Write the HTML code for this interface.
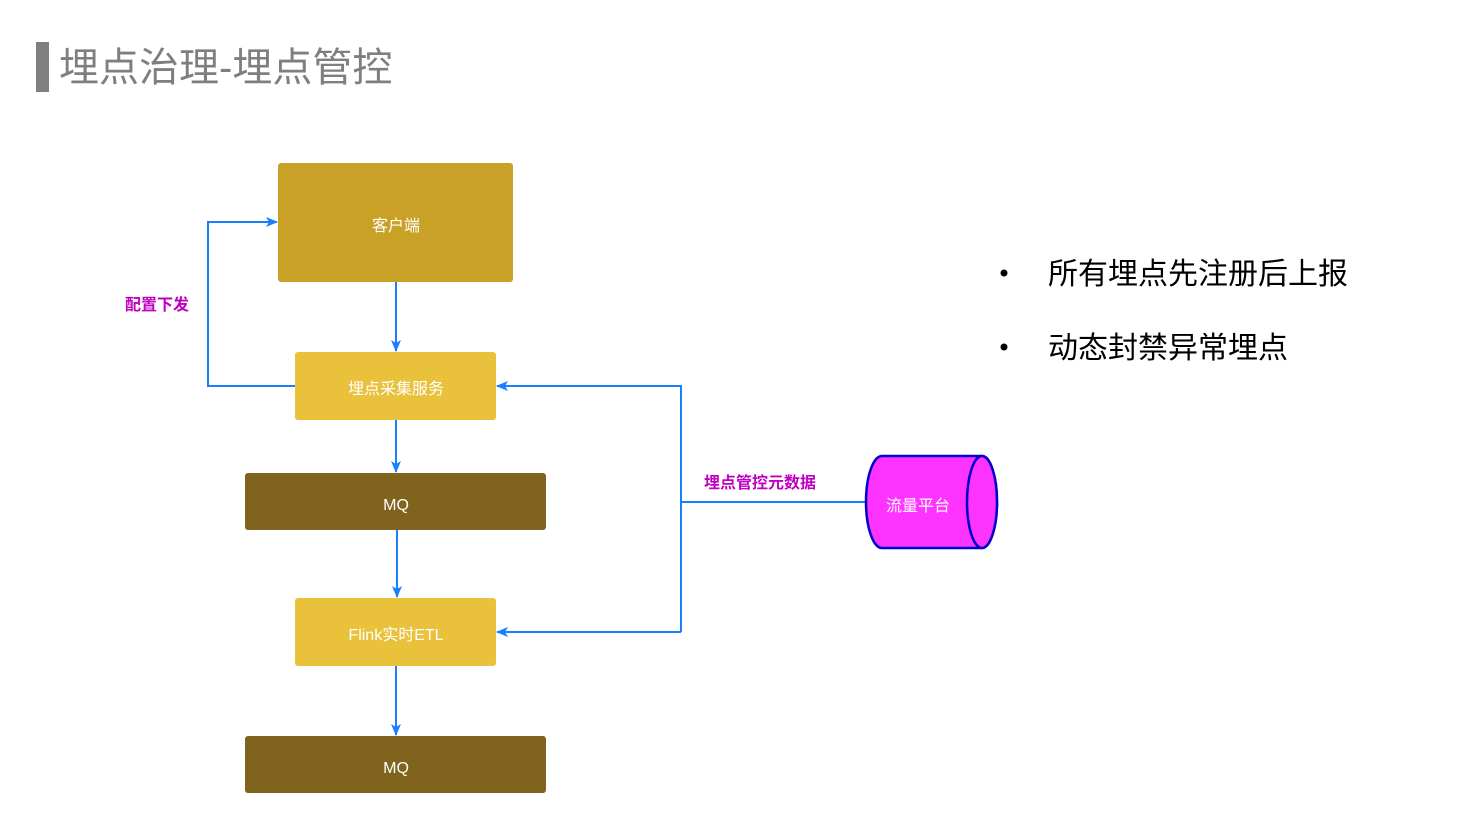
<!DOCTYPE html>
<html><head><meta charset="utf-8"><style>
body{margin:0;width:1477px;height:838px;background:#fff;overflow:hidden}
svg{display:block}
text{font-family:"Liberation Sans","Noto Sans CJK SC",sans-serif}
</style></head><body>
<svg width="1477" height="838" viewBox="0 0 1477 838">
<defs><marker id="a" markerWidth="12" markerHeight="10" refX="11" refY="5" orient="auto" markerUnits="userSpaceOnUse"><path d="M0,0 L12,5 L0,10 L3,5 Z" fill="#1a7fff"/></marker></defs>
<rect x="36" y="42" width="13" height="50" fill="#808080"/>
<text x="59" y="81" font-size="40" fill="#7f7f7f">埋点治理-埋点管控</text>

<rect x="278" y="163" width="235" height="119" rx="3" fill="#caa127"/>
<text x="396" y="231" font-size="16" fill="#fff" text-anchor="middle">客户端</text>
<rect x="295" y="352" width="201" height="68" rx="3" fill="#e9c13b"/>
<text x="396" y="394" font-size="16" fill="#fff" text-anchor="middle">埋点采集服务</text>
<rect x="245" y="473" width="301" height="57" rx="3" fill="#80631d"/>
<text x="396" y="510" font-size="16" fill="#fff" text-anchor="middle">MQ</text>
<rect x="295" y="598" width="201" height="68" rx="3" fill="#e9c13b"/>
<text x="396" y="640" font-size="16" fill="#fff" text-anchor="middle">Flink实时ETL</text>
<rect x="245" y="736" width="301" height="57" rx="3" fill="#80631d"/>
<text x="396" y="773" font-size="16" fill="#fff" text-anchor="middle">MQ</text>

<g stroke="#1a7fff" stroke-width="2" fill="none">
<path d="M396,282 V351" marker-end="url(#a)"/>
<path d="M396,420 V472" marker-end="url(#a)"/>
<path d="M397,530 V597" marker-end="url(#a)"/>
<path d="M396,666 V735" marker-end="url(#a)"/>
<path d="M295,386 H208 V222 H277" marker-end="url(#a)"/>
<path d="M866,502 H681"/>
<path d="M681,632 V386 H497" marker-end="url(#a)"/>
<path d="M681,632 H497" marker-end="url(#a)"/>
</g>
<text x="125" y="310" font-size="16" font-weight="bold" fill="#c000c0">配置下发</text>
<text x="704" y="488" font-size="16" font-weight="bold" fill="#c000c0">埋点管控元数据</text>

<path d="M882,456 H982 A15,46 0 0 1 982,548 H882 A16,46 0 0 1 882,456 Z" fill="#ff33ff" stroke="#0000cc" stroke-width="2.5"/>
<ellipse cx="982" cy="502" rx="15" ry="46" fill="#ff33ff" stroke="#0000cc" stroke-width="2.5"/>
<text x="918" y="511" font-size="16" fill="#fff" text-anchor="middle">流量平台</text>

<circle cx="1004" cy="273" r="3.5" fill="#000"/>
<circle cx="1004" cy="347" r="3.5" fill="#000"/>
<text x="1048" y="284" font-size="30" fill="#000">所有埋点先注册后上报</text>
<text x="1048" y="358" font-size="30" fill="#000">动态封禁异常埋点</text>
</svg>
</body></html>
